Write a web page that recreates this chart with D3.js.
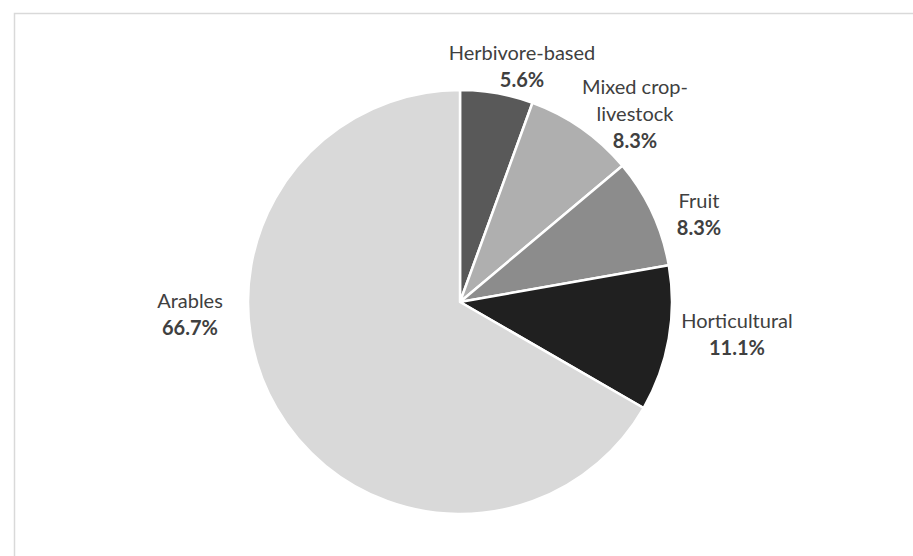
<!DOCTYPE html>
<html><head><meta charset="utf-8">
<script src="https://cdn.jsdelivr.net/npm/d3@7"></script>
<style>body{margin:0;background:#fff}svg{display:block}</style>
</head><body>
<svg id="c" width="913" height="556"></svg>
<script>
const categories = ["Herbivore-based", "Mixed crop-livestock", "Fruit", "Horticultural", "Arables"];
const values = [2, 3, 3, 4, 24];
const colors = ["#595959", "#afafaf", "#8c8c8c", "#202020", "#d9d9d9"];
const labelLines = [["Herbivore-based"], ["Mixed crop-", "livestock"], ["Fruit"], ["Horticultural"], ["Arables"]];

const svg = d3.select("#c");
svg.append("rect").attr("x", 14.5).attr("y", 13.5).attr("width", 1000).attr("height", 1000)
  .attr("fill", "#fff").attr("stroke", "#d9d9d9").attr("stroke-width", 1.5);

const cx = 460, cy = 302, r = 212;
const total = d3.sum(values);
const pie = d3.pie().sort(null).value(d => d)(values);
const arc = d3.arc().innerRadius(0).outerRadius(r);
const g = svg.append("g").attr("transform", `translate(${cx},${cy})`);
g.selectAll("path").data(pie).join("path")
  .attr("d", arc).attr("fill", (d, i) => colors[i])
  .attr("stroke", "#fff").attr("stroke-width", 2.5).attr("stroke-linejoin", "round");

// layout: label centre x and first baseline y, relative to pie centre
const labelPos = [[62, -242], [175, -208.5], [239, -94], [277, 26], [-270, 5.5]];
const lh = 27;
const fmt = v => (v / total * 100).toFixed(1) + "%";
labelPos.forEach((p, i) => {
  const lines = labelLines[i];
  const x = cx + p[0], y0 = cy + p[1];
  const t = svg.append("text").attr("text-anchor", "middle")
    .attr("font-family", "Lato, sans-serif").attr("font-size", 20).attr("fill", "#404040");
  lines.forEach((l, j) => t.append("tspan").attr("x", x).attr("y", y0 + j * lh).text(l));
  t.append("tspan").attr("x", x).attr("y", y0 + lines.length * lh)
    .attr("font-weight", "bold").text(fmt(values[i]));
});
</script>
</body></html>
